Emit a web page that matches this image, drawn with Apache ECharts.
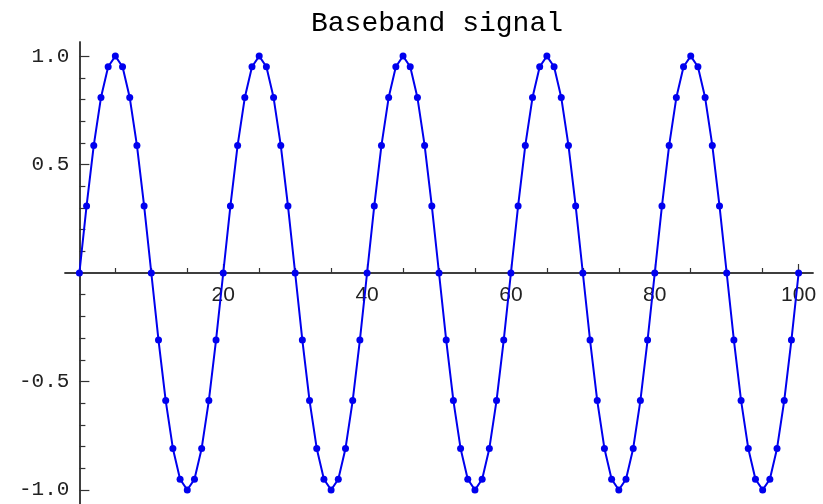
<!DOCTYPE html>
<html>
<head>
<meta charset="utf-8">
<script src="https://cdn.jsdelivr.net/npm/echarts@6/dist/echarts.min.js"></script>
<style>html,body{margin:0;padding:0;background:#fff}#c{width:823px;height:504px}</style>
</head>
<body>
<div id="c"></div>
<script>
var title = 'Baseband signal';
var signal = [
  0, 0.309, 0.588, 0.809, 0.951, 1.0, 0.951, 0.809, 0.588, 0.309,
  0, -0.309, -0.588, -0.809, -0.951, -1.0, -0.951, -0.809, -0.588, -0.309,
  0, 0.309, 0.588, 0.809, 0.951, 1.0, 0.951, 0.809, 0.588, 0.309,
  0, -0.309, -0.588, -0.809, -0.951, -1.0, -0.951, -0.809, -0.588, -0.309,
  0, 0.309, 0.588, 0.809, 0.951, 1.0, 0.951, 0.809, 0.588, 0.309,
  0, -0.309, -0.588, -0.809, -0.951, -1.0, -0.951, -0.809, -0.588, -0.309,
  0, 0.309, 0.588, 0.809, 0.951, 1.0, 0.951, 0.809, 0.588, 0.309,
  0, -0.309, -0.588, -0.809, -0.951, -1.0, -0.951, -0.809, -0.588, -0.309,
  0, 0.309, 0.588, 0.809, 0.951, 1.0, 0.951, 0.809, 0.588, 0.309,
  0, -0.309, -0.588, -0.809, -0.951, -1.0, -0.951, -0.809, -0.588, -0.309,
  0
];
var xMajorTicks = [20, 40, 60, 80, 100];
var xMinorTicks = [5, 10, 15, 25, 30, 35, 45, 50, 55, 65, 70, 75, 85, 90, 95];
var yMajorTicks = [-1.0, -0.5, 0.5, 1.0];
var yMinorTicks = [-0.9, -0.8, -0.7, -0.6, -0.4, -0.3, -0.2, -0.1, 0.1, 0.2, 0.3, 0.4, 0.6, 0.7, 0.8, 0.9];

var points = signal.map(function (v, i) { return [i, v]; });
var axisColor = '#333';
var GRID_LEFT = 65, GRID_W = 748, GRID_TOP = 42, GRID_H = 462;
var X_MIN = -2, X_MAX = 102, Y_MIN = -1.065, Y_MAX = 1.065;
// place axes through the origin using offsets
var xOffset = -GRID_H * (0 - Y_MIN) / (Y_MAX - Y_MIN);
var yOffset = -GRID_W * (0 - X_MIN) / (X_MAX - X_MIN);

var chart = echarts.init(document.getElementById('c'), null, {renderer: 'canvas'});
chart.setOption({
  animation: false,
  title: {
    text: title, left: 432, top: 5, textAlign: 'center',
    textStyle: {fontFamily: "'Courier New','Liberation Mono',monospace", fontSize: 28, fontWeight: 'normal', color: '#000'}
  },
  grid: {left: GRID_LEFT, width: GRID_W, top: GRID_TOP, height: GRID_H, containLabel: false, outerBoundsMode: 'none'},
  xAxis: [{
    type: 'value', min: X_MIN, max: X_MAX, position: 'bottom', offset: xOffset,
    splitLine: {show: false},
    axisLine: {onZero: false, lineStyle: {color: axisColor, width: 1.5}},
    axisTick: {inside: true, length: 9, customValues: xMajorTicks, lineStyle: {color: axisColor, width: 1.2}},
    axisLabel: {customValues: xMajorTicks, margin: 12, fontFamily: "'Liberation Sans',Arial,sans-serif", fontSize: 21, color: '#222'}
  }, {
    type: 'value', min: X_MIN, max: X_MAX, position: 'bottom', offset: xOffset,
    splitLine: {show: false},
    axisLine: {onZero: false, lineStyle: {color: axisColor, width: 1.5}},
    axisTick: {inside: true, length: 5, customValues: xMinorTicks, lineStyle: {color: axisColor, width: 1.2}},
    axisLabel: {show: false}
  }],
  yAxis: [{
    type: 'value', min: Y_MIN, max: Y_MAX, position: 'left', offset: yOffset,
    splitLine: {show: false},
    axisLine: {onZero: false, lineStyle: {color: axisColor, width: 1.5}},
    axisTick: {inside: true, length: 10, customValues: yMajorTicks, lineStyle: {color: axisColor, width: 1.2}},
    axisLabel: {customValues: yMajorTicks, margin: 10, fontFamily: "'Liberation Mono','DejaVu Sans Mono',monospace", fontSize: 21, color: '#222',
      formatter: function (v) { return v.toFixed(1); }}
  }, {
    type: 'value', min: Y_MIN, max: Y_MAX, position: 'left', offset: yOffset,
    splitLine: {show: false},
    axisLine: {onZero: false, lineStyle: {color: axisColor, width: 1.5}},
    axisTick: {inside: true, length: 6, customValues: yMinorTicks, lineStyle: {color: axisColor, width: 1.2}},
    axisLabel: {show: false}
  }],
  series: [{
    type: 'line', data: points, xAxisIndex: 0, yAxisIndex: 0,
    symbol: 'circle', symbolSize: 7, showAllSymbol: true,
    lineStyle: {color: '#0000ee', width: 2},
    itemStyle: {color: '#0000ee'},
    z: 5
  }]
});
</script>
</body>
</html>
